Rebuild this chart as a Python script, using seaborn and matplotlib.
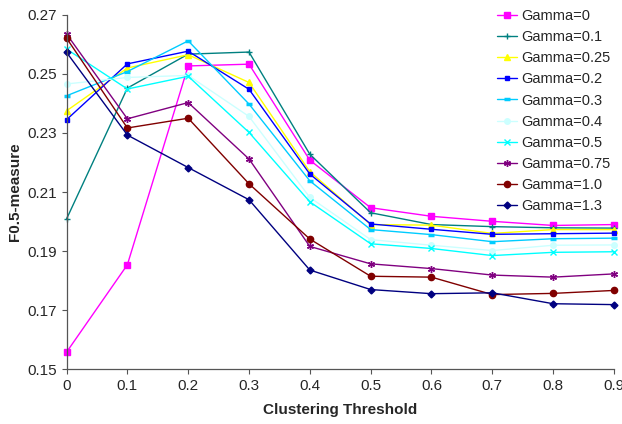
import matplotlib
matplotlib.use("Agg")
import matplotlib.pyplot as plt
import seaborn as sns
import pandas as pd

# clustering thresholds on the x axis
thresholds = [0.0, 0.1, 0.2, 0.3, 0.4, 0.5, 0.6, 0.7, 0.8, 0.9]

# F0.5-measure per gamma value
gamma_labels = ["Gamma=0", "Gamma=0.1", "Gamma=0.25", "Gamma=0.2", "Gamma=0.3",
                "Gamma=0.4", "Gamma=0.5", "Gamma=0.75", "Gamma=1.0", "Gamma=1.3"]

g_0 = [0.1558, 0.1854, 0.2527, 0.2533, 0.2208, 0.2047, 0.2018, 0.2001, 0.1987, 0.1990]
g_01 = [0.2009, 0.2452, 0.2567, 0.2574, 0.2228, 0.2030, 0.1990, 0.1983, 0.1979, 0.1978]
g_025 = [0.2375, 0.2520, 0.2565, 0.2471, 0.2169, 0.1990, 0.1988, 0.1960, 0.1973, 0.1973]
g_02 = [0.2345, 0.2534, 0.2577, 0.2448, 0.2161, 0.1992, 0.1974, 0.1957, 0.1959, 0.1961]
g_03 = [0.2426, 0.2508, 0.2612, 0.2398, 0.2138, 0.1973, 0.1956, 0.1932, 0.1942, 0.1944]
g_04 = [0.2466, 0.2488, 0.2495, 0.2356, 0.2082, 0.1939, 0.1920, 0.1902, 0.1920, 0.1921]
g_05 = [0.2584, 0.2449, 0.2492, 0.2302, 0.2067, 0.1925, 0.1909, 0.1885, 0.1896, 0.1898]
g_075 = [0.2635, 0.2348, 0.2403, 0.2212, 0.1916, 0.1857, 0.1841, 0.1819, 0.1812, 0.1823]
g_10 = [0.2621, 0.2317, 0.2350, 0.2128, 0.1941, 0.1815, 0.1812, 0.1753, 0.1757, 0.1767]
g_13 = [0.2573, 0.2293, 0.2183, 0.2074, 0.1836, 0.1770, 0.1756, 0.1759, 0.1722, 0.1719]

series = [g_0, g_01, g_025, g_02, g_03, g_04, g_05, g_075, g_10, g_13]

# excel-ish colours and markers
colors = ["#FF00FF", "#008080", "#FFFF00", "#0000FF", "#00CCFF",
          "#CCFFFF", "#00FFFF", "#800080", "#800000", "#000080"]
markers = ["s", "+", "^", "s", "_", "o", "x", (6, 2, 0), "o", "D"]
msizes = [4.5, 5, 5, 2.8, 5, 4, 4, 5, 4.5, 3.5]
mews = [1, 1, 1, 1, 2.5, 1, 1, 1, 1, 1]

rows = []
for label, vals in zip(gamma_labels, series):
    for t, v in zip(thresholds, vals):
        rows.append({"threshold": t, "f05": v, "gamma": label})
df = pd.DataFrame(rows)

sns.set_style("white")
plt.rcParams["font.family"] = ["Liberation Sans", "DejaVu Sans"]

fig, ax = plt.subplots(figsize=(6.22, 4.24), dpi=100)
fig.subplots_adjust(left=0.107, right=0.987, top=0.965, bottom=0.129)

for i, label in enumerate(gamma_labels):
    sns.lineplot(data=df[df["gamma"] == label], x="threshold", y="f05",
                 color=colors[i], marker=markers[i], markersize=msizes[i],
                 markeredgewidth=mews[i], markeredgecolor=colors[i],
                 linewidth=1.0, label=label, ax=ax, clip_on=False)

ax.set_xlim(0, 0.9)
ax.set_ylim(0.15, 0.27)
ax.set_xticks(thresholds)
ax.set_xticklabels(["0", "0.1", "0.2", "0.3", "0.4", "0.5", "0.6", "0.7", "0.8", "0.9"])
ax.set_yticks([0.15, 0.17, 0.19, 0.21, 0.23, 0.25, 0.27])
ax.set_yticklabels(["0.15", "0.17", "0.19", "0.21", "0.23", "0.25", "0.27"])
ax.tick_params(axis="both", labelsize=11, length=3.5, width=0.8, color="#555555",
               direction="out", bottom=True, left=True, pad=3.5)

for side in ["top", "right"]:
    ax.spines[side].set_visible(False)
for side in ["left", "bottom"]:
    ax.spines[side].set_color("#555555")
    ax.spines[side].set_linewidth(0.9)

ax.set_xlabel("Clustering Threshold", fontsize=11, fontweight="bold", labelpad=7)
ax.set_ylabel("F0.5-measure", fontsize=11, fontweight="bold", labelpad=4)

ax.legend(loc="upper left", bbox_to_anchor=(497 / 622, 1 - 9 / 424),
          bbox_transform=fig.transFigure, frameon=False, fontsize=10.5,
          borderpad=0, borderaxespad=0, handlelength=1.37, handletextpad=0.3,
          labelspacing=0.49)

plt.savefig("out.png", dpi=100)
plt.close()
